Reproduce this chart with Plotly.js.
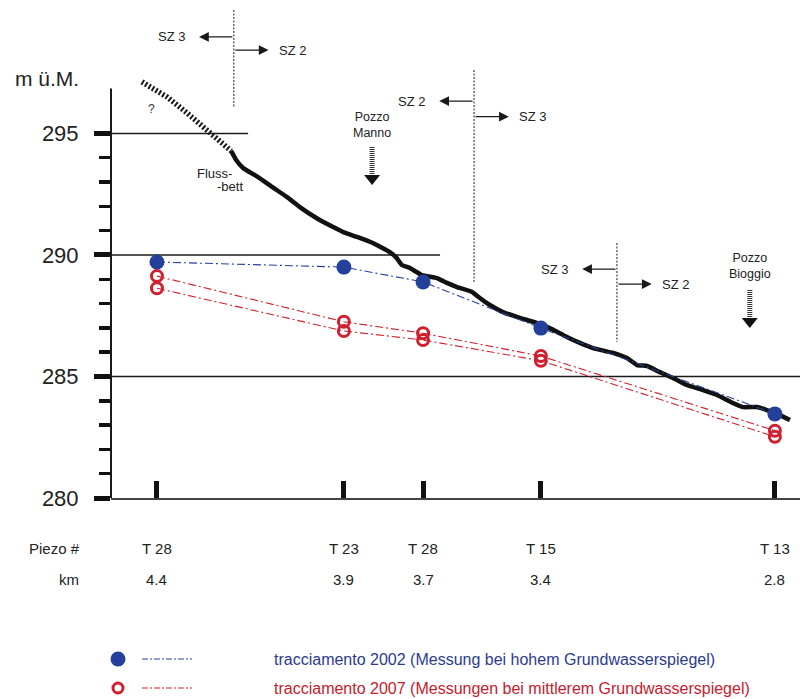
<!DOCTYPE html>
<html>
<head>
<meta charset="utf-8">
<script src="https://cdn.plot.ly/plotly-3.0.1.min.js"></script>
<style>html,body{margin:0;padding:0;background:#fff}#chart{width:800px;height:699px}</style>
</head>
<body>
<div id="chart"></div>
<script>
// ---------------- data ----------------
const piezoNames = ['T 28', 'T 23', 'T 28', 'T 15', 'T 13'];
const piezoKmLabels = ['4.4', '3.9', '3.7', '3.4', '2.8'];
const piezoKm = [4.40, 3.916, 3.711, 3.406, 2.80];

const level2002 = [289.71, 289.50, 288.89, 286.99, 283.46];
const level2007a = [289.13, 287.25, 286.78, 285.84, 282.77];
const level2007b = [288.63, 286.87, 286.50, 285.65, 282.52];

const bedUncertainKm = [4.439, 4.374, 4.322, 4.271, 4.208];
const bedUncertainLevel = [297.12, 296.50, 295.84, 295.14, 294.28];

const bedKm = [4.208, 4.195, 4.177, 4.139, 4.102, 4.063, 4.030, 3.983, 3.944, 3.918,
  3.882, 3.841, 3.797, 3.779, 3.766, 3.745, 3.714, 3.675, 3.649, 3.623,
  3.584, 3.564, 3.538, 3.504, 3.460, 3.416, 3.383, 3.349, 3.305, 3.271,
  3.219, 3.183, 3.157, 3.131, 3.098, 3.064, 3.028, 2.986, 2.950, 2.909,
  2.883, 2.847, 2.821, 2.787, 2.761];
const bedLevel = [294.28, 293.91, 293.58, 293.21, 292.80, 292.38, 291.97, 291.48, 291.15, 290.94,
  290.74, 290.49, 290.12, 289.87, 289.59, 289.46, 289.17, 289.05, 288.85, 288.68,
  288.48, 288.23, 287.94, 287.65, 287.41, 287.20, 286.99, 286.71, 286.38, 286.17,
  285.97, 285.76, 285.47, 285.43, 285.18, 284.94, 284.65, 284.44, 284.24, 283.91,
  283.74, 283.74, 283.62, 283.41, 283.21];

const yTicks = [280, 285, 290, 295];
const yTickLabels = ['280', '285', '290', '295'];
const yMinorTicks = [281, 282, 283, 284, 286, 287, 288, 289, 291, 292, 293, 294];

const zoneBoundaryKm = [4.201, 3.579, 3.209];
const zoneLeftLabels = ['SZ 3', 'SZ 2', 'SZ 3'];
const zoneRightLabels = ['SZ 2', 'SZ 3', 'SZ 2'];

const wellNames = ['Pozzo<br>Manno', 'Pozzo<br>Bioggio'];
const wellKm = [3.843, 2.865];

const legendLabels = [
  'tracciamento 2002 (Messung bei hohem Grundwasserspiegel)',
  'tracciamento 2007 (Messungen bei mittlerem Grundwasserspiegel)'
];

// ---------------- layout constants ----------------
const X_RANGE = [4.519, 2.735];
const Y_RANGE = [280, 300.49];
const PLOT_H = 498, PLOT_W = 689, ML = 111;
const BLUE = '#24409a', RED = '#d0202f', INK = '#1a1a1a';
const FONT = 'Liberation Sans, Arial, sans-serif';
const pyPaper = py => (PLOT_H - py) / PLOT_H;
const pxPaper = px => (px - ML) / PLOT_W;

// zone boundary geometry (data units): [yTop, yBottom, yLeftArrow, yRightArrow]
const zoneGeom = [
  [300.08, 296.05, 298.97, 298.43],
  [297.61, 288.89, 296.33, 295.69],
  [290.49, 286.42, 289.42, 288.80]
];
const ARROW_KM = 0.09;
// wells: [textY, shaftTop, tipY]
const wellGeom = [
  [295.35, 294.44, 292.88],
  [289.55, 288.56, 286.99]
];

// ---------------- traces ----------------
const dashDot = '8px,3px,2px,3px';
const traces = [
  {x: bedUncertainKm, y: bedUncertainLevel, mode: 'lines', line: {color: '#1a1a1a', width: 5.5, dash: '2px,2px'}, hoverinfo: 'skip'},
  {x: bedKm, y: bedLevel, mode: 'lines', line: {color: '#111', width: 4.5, shape: 'spline', smoothing: 0.3}, hoverinfo: 'skip'},
  {x: piezoKm, y: level2007a, mode: 'lines+markers', line: {color: RED, width: 1.1, dash: dashDot},
   marker: {symbol: 'circle-open', size: 11, color: RED, line: {width: 3, color: RED}}},
  {x: piezoKm, y: level2007b, mode: 'lines+markers', line: {color: RED, width: 1.1, dash: dashDot},
   marker: {symbol: 'circle-open', size: 11, color: RED, line: {width: 3, color: RED}}},
  {x: piezoKm, y: level2002, mode: 'lines+markers', line: {color: BLUE, width: 1.1, dash: dashDot},
   marker: {symbol: 'circle', size: 15, color: BLUE}}
].map(t => Object.assign({showlegend: false, cliponaxis: false}, t));

// ---------------- shapes ----------------
const shapes = [];
// y axis line
shapes.push({type: 'line', xref: 'paper', yref: 'y', x0: 0, x1: 0, y0: 280, y1: 296.85, line: {color: INK, width: 2}});
// horizontal reference lines
shapes.push({type: 'line', xref: 'x', yref: 'y', x0: X_RANGE[0], x1: 4.164, y0: 295, y1: 295, line: {color: INK, width: 1.4}, layer: 'below'});
shapes.push({type: 'line', xref: 'x', yref: 'y', x0: X_RANGE[0], x1: 3.667, y0: 290, y1: 290, line: {color: INK, width: 1.4}, layer: 'below'});
shapes.push({type: 'line', xref: 'x', yref: 'y', x0: X_RANGE[0], x1: X_RANGE[1], y0: 285, y1: 285, line: {color: INK, width: 1.4}, layer: 'below'});
// zone boundaries
zoneBoundaryKm.forEach((k, i) => {
  const g = zoneGeom[i];
  shapes.push({type: 'line', xref: 'x', yref: 'y', x0: k, x1: k, y0: g[0], y1: g[1], line: {color: INK, width: 1, dash: '2px,1.5px'}});
});
// wells: dotted shaft + triangle head
wellKm.forEach((k, i) => {
  const g = wellGeom[i];
  shapes.push({type: 'line', xref: 'x', yref: 'y', x0: k, x1: k, y0: g[1], y1: g[2] + 0.42, line: {color: '#333', width: 5, dash: '1px,1px'}});
  shapes.push({type: 'path', xref: 'x', yref: 'y', xsizemode: 'pixel', ysizemode: 'pixel', xanchor: k, yanchor: g[2],
    path: 'M-8,10L8,10L0,0Z', fillcolor: '#111', line: {width: 0}});
});
// legend symbols
const legY = [pyPaper(659), pyPaper(688)];
shapes.push({type: 'circle', xref: 'paper', yref: 'paper', xsizemode: 'pixel', ysizemode: 'pixel',
  xanchor: pxPaper(118), yanchor: legY[0], x0: -7.5, x1: 7.5, y0: -7.5, y1: 7.5, fillcolor: BLUE, line: {width: 0}});
shapes.push({type: 'circle', xref: 'paper', yref: 'paper', xsizemode: 'pixel', ysizemode: 'pixel',
  xanchor: pxPaper(118), yanchor: legY[1], x0: -5, x1: 5, y0: -5, y1: 5, fillcolor: '#fff', line: {width: 3, color: RED}});
shapes.push({type: 'line', xref: 'paper', yref: 'paper', x0: pxPaper(142), x1: pxPaper(192), y0: legY[0], y1: legY[0], line: {color: BLUE, width: 1.2, dash: '6px,2px,2px,2px'}});
shapes.push({type: 'line', xref: 'paper', yref: 'paper', x0: pxPaper(142), x1: pxPaper(192), y0: legY[1], y1: legY[1], line: {color: RED, width: 1.2, dash: '6px,2px,2px,2px'}});

// ---------------- annotations ----------------
const ann = [];
const txt = (o) => Object.assign({showarrow: false, xanchor: 'center', yanchor: 'middle', font: {family: FONT, size: 13, color: '#222'}}, o);
// y unit
ann.push(txt({xref: 'paper', yref: 'y', x: pxPaper(47), y: 297.28, text: 'm ü.M.', font: {family: FONT, size: 21, color: '#222'}}));
// piezometer rows
ann.push(txt({xref: 'paper', yref: 'paper', x: pxPaper(82), y: pyPaper(548), xanchor: 'right', text: 'Piezo #', font: {family: FONT, size: 15, color: '#222'}}));
ann.push(txt({xref: 'paper', yref: 'paper', x: pxPaper(81), y: pyPaper(579), xanchor: 'right', text: 'km', font: {family: FONT, size: 15, color: '#222'}}));
piezoKm.forEach((k, i) => {
  ann.push(txt({xref: 'x', yref: 'paper', x: k, y: pyPaper(548), text: piezoNames[i], font: {family: FONT, size: 15, color: '#222'}}));
  ann.push(txt({xref: 'x', yref: 'paper', x: k, y: pyPaper(579), text: piezoKmLabels[i], font: {family: FONT, size: 15, color: '#222'}}));
});
// zone arrows
zoneBoundaryKm.forEach((k, i) => {
  const g = zoneGeom[i];
  const headL = k + ARROW_KM, headR = k - ARROW_KM;
  ann.push({xref: 'x', yref: 'y', axref: 'x', ayref: 'y', x: headL, y: g[2], ax: k, ay: g[2], text: '', showarrow: true,
    arrowhead: 2, arrowsize: 1.5, arrowwidth: 1.3, arrowcolor: INK, standoff: 0});
  ann.push({xref: 'x', yref: 'y', axref: 'x', ayref: 'y', x: headR, y: g[3], ax: k, ay: g[3], text: '', showarrow: true,
    arrowhead: 2, arrowsize: 1.5, arrowwidth: 1.3, arrowcolor: INK, standoff: 0});
  ann.push(txt({xref: 'x', yref: 'y', x: headL, y: g[2], xanchor: 'right', xshift: -12, text: zoneLeftLabels[i]}));
  ann.push(txt({xref: 'x', yref: 'y', x: headR, y: g[3], xanchor: 'left', xshift: 8, text: zoneRightLabels[i]}));
});
// wells
wellKm.forEach((k, i) => {
  ann.push(txt({xref: 'x', yref: 'y', x: k, y: wellGeom[i][0], text: wellNames[i], font: {family: FONT, size: 12.5, color: '#222'}}));
});
// river bed labels
ann.push(txt({xref: 'x', yref: 'y', x: 4.250, y: 293.37, text: 'Fluss-'}));
ann.push(txt({xref: 'x', yref: 'y', x: 4.211, y: 292.80, text: '-bett'}));
ann.push(txt({xref: 'x', yref: 'y', x: 4.413, y: 296.0, text: '?', font: {family: FONT, size: 12, color: '#333'}}));
// legend text
legendLabels.forEach((l, i) => {
  ann.push(txt({xref: 'paper', yref: 'paper', x: pxPaper(272), y: legY[i], xanchor: 'left', yanchor: 'middle', text: l,
    font: {family: FONT, size: 16, color: i === 0 ? '#2d3b8e' : '#c8202e'}}));
});

const layout = {
  width: 800, height: 699,
  margin: {l: ML, r: 0, t: 0, b: 201, pad: 0},
  paper_bgcolor: '#fff', plot_bgcolor: '#fff',
  font: {family: FONT, color: '#222'},
  showlegend: false,
  xaxis: {
    range: X_RANGE, showgrid: false, zeroline: false,
    showline: true, linecolor: '#444', linewidth: 1.5,
    ticks: 'inside', tickmode: 'array', tickvals: piezoKm, ticklen: 17, tickwidth: 5, tickcolor: '#111',
    showticklabels: false, fixedrange: true
  },
  yaxis: {
    range: Y_RANGE, showgrid: false, zeroline: false, showline: false,
    ticks: 'outside', tickmode: 'array', tickvals: yTicks, ticktext: yTickLabels,
    ticklen: 16, tickwidth: 5, tickcolor: '#111', ticklabelstandoff: 11,
    tickfont: {family: FONT, size: 22, color: '#222'},
    minor: {tickmode: 'array', tickvals: yMinorTicks, ticks: 'outside', ticklen: 11, tickwidth: 3.5, tickcolor: '#111'},
    fixedrange: true
  },
  shapes: shapes,
  annotations: ann
};

Plotly.newPlot('chart', traces, layout, {displayModeBar: false, staticPlot: true});
</script>
</body>
</html>
